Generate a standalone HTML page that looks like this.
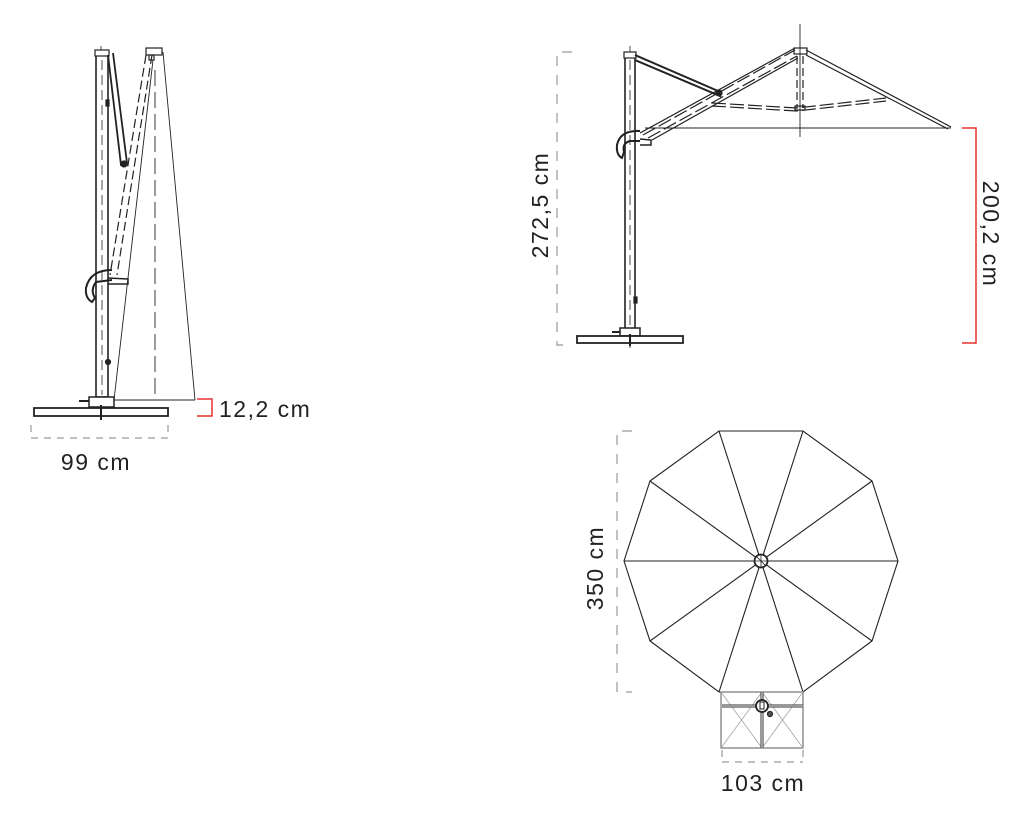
<!DOCTYPE html>
<html><head><style>
html,body{margin:0;padding:0;background:#fff;}
svg{display:block;}
text{font-family:"Liberation Sans",sans-serif;fill:#222;letter-spacing:1.5px;}
</style></head><body>
<svg width="1024" height="832" viewBox="0 0 1024 832" xmlns="http://www.w3.org/2000/svg">
<g fill="none" stroke="#222" stroke-width="1.2">
<!-- LEFT VIEW -->
<line x1="101" y1="46" x2="101" y2="420" stroke-width="0.8"/>
<rect x="96" y="52" width="12" height="345" fill="#fff" stroke-width="1.6"/>
<line x1="102" y1="60" x2="102" y2="395" stroke-dasharray="10 5" stroke-width="0.8"/>
<rect x="95" y="50" width="14" height="6" fill="#fff"/>
<path d="M108 55 L121 165 L127 163 L113 53" stroke-width="1.8"/>
<circle cx="124" cy="164" r="3" fill="#222"/>
<path d="M146 55 L110 275 M152 55 L117 275" stroke-dasharray="9 4"/>
<rect x="146" y="48" width="16" height="7"/>
<rect x="149" y="55" width="5" height="5"/>
<line x1="163" y1="52" x2="195" y2="400" stroke-width="0.9"/>
<line x1="153" y1="60" x2="114" y2="400" stroke-width="0.9"/>
<line x1="155" y1="70" x2="155" y2="400" stroke-dasharray="16 6" stroke-width="0.9"/>
<line x1="114" y1="400" x2="195" y2="400" stroke-width="0.9"/>
<path d="M112 270 Q90 270 86 288 Q85 298 92 302 L95 298 Q90 290 96 282 L112 280" stroke-width="2"/>
<path d="M108 278 L128 279 L128 284 L108 284" stroke-width="1.5"/>
<rect x="106" y="100" width="3" height="6" fill="#222"/>
<circle cx="108" cy="362" r="2.5" fill="#222"/>
<rect x="89" y="397" width="25" height="10" fill="#fff" stroke-width="1.5"/>
<line x1="79" y1="401" x2="89" y2="401" stroke-width="2"/>
<rect x="34" y="408" width="134" height="8" fill="#fff" stroke-width="1.8"/>
<line x1="101" y1="405" x2="101" y2="420" stroke-width="2"/>
<path d="M197 399 H212 V416 H197" stroke="#e53030" stroke-width="1.5"/>
<path d="M31 425 V438 M168 425 V438 M31 438 H168" stroke="#999" stroke-dasharray="7 6"/>
<!-- RIGHT VIEW -->
<line x1="630" y1="46" x2="630" y2="348" stroke-width="0.8"/>
<rect x="625" y="53" width="10" height="277" fill="#fff" stroke-width="1.6"/>
<line x1="630" y1="60" x2="630" y2="325" stroke-dasharray="10 5" stroke-width="0.8"/>
<rect x="624" y="52" width="12" height="6" fill="#fff"/>
<path d="M635 55 L718 91 L720 96 L635 60" stroke-width="2"/>
<circle cx="719" cy="93" r="3" fill="#222"/>
<path d="M643 135 L795 50 M648 138 L797 56" stroke-dasharray="14 4"/>
<path d="M640 133 L795 48 M652 140 L798 58"/>
<path d="M806 50 L951 127 M806 55 L948 129"/>
<rect x="794" y="48" width="13" height="6"/>
<line x1="800" y1="24" x2="800" y2="137" stroke-width="0.9"/>
<path d="M797 56 V108 M803 56 V108" stroke-dasharray="8 4"/>
<path d="M712 103 L797 108 L886 98 M712 106 L797 111 L886 101" stroke-dasharray="14 4"/>
<rect x="795" y="106" width="10" height="4"/>
<line x1="645" y1="128" x2="951" y2="128" stroke-width="0.9"/>
<path d="M640 131 Q620 130 617 145 Q616 155 622 158 L624 152 Q622 143 630 141 L640 141" stroke-width="2"/>
<path d="M640 139 L651 140 L651 145 L640 145" stroke-width="1.5"/>
<rect x="634" y="297" width="3" height="6" fill="#222"/>
<rect x="620" y="328" width="20" height="8" fill="#fff" stroke-width="1.5"/>
<line x1="612" y1="332" x2="620" y2="332" stroke-width="2"/>
<rect x="577" y="336" width="106" height="7" fill="#fff" stroke-width="1.8"/>
<line x1="630" y1="334" x2="630" y2="346" stroke-width="2"/>
<path d="M962 128 H976 V343 H962" stroke="#e53030" stroke-width="1.5"/>
<path d="M572 52 H557 V345 H572" stroke="#999" stroke-dasharray="10 9"/>
<!-- TOP VIEW -->
<polygon points="898,561 872,481 803,431 719,431 650,481 624,561 650,641 719,692 803,692 872,641" stroke-width="1.1"/>
<path d="M898 561 L624 561 M872 481 L650 641 M803 431 L719 692 M719 431 L803 692 M650 481 L872 641" stroke-width="1.1"/>
<circle cx="761" cy="561" r="6.5" fill="#fff" stroke-width="1.8"/>
<path d="M761 555 V567 M755 561 H767 M757 557 L765 565" stroke-width="0.8"/>
<rect x="721" y="692" width="82" height="56" stroke="#888" stroke-width="1.4"/>
<path d="M721 692 L762 748 M762 692 L721 748 M762 692 L803 748 M803 692 L762 748" stroke="#aaa" stroke-width="0.9"/>
<path d="M722 706 H803 M762 692 V748" stroke="#333" stroke-width="3"/>
<path d="M722 706 H803 M762 692 V748" stroke="#fff" stroke-width="1"/>
<circle cx="762" cy="706" r="6" fill="#fff" stroke-width="1.8"/>
<rect x="760" y="702" width="4" height="7" stroke-width="1"/>
<circle cx="770" cy="714" r="2.5" fill="#555"/>
<path d="M722 750 V762 M803 750 V762 M722 762 H803" stroke="#999" stroke-dasharray="7 6"/>
<path d="M632 431 H617 V692 H632" stroke="#999" stroke-dasharray="10 9"/>
</g>
<text x="219" y="417" font-size="23">12,2 cm</text>
<text x="96" y="470" font-size="23" text-anchor="middle">99 cm</text>
<text x="763" y="791" font-size="23" text-anchor="middle">103 cm</text>
<text transform="translate(548,205) rotate(-90)" font-size="23" text-anchor="middle">272,5 cm</text>
<text transform="translate(983,234) rotate(90)" font-size="23" text-anchor="middle">200,2 cm</text>
<text transform="translate(603,568) rotate(-90)" font-size="23" text-anchor="middle">350 cm</text>
</svg>
</body></html>
